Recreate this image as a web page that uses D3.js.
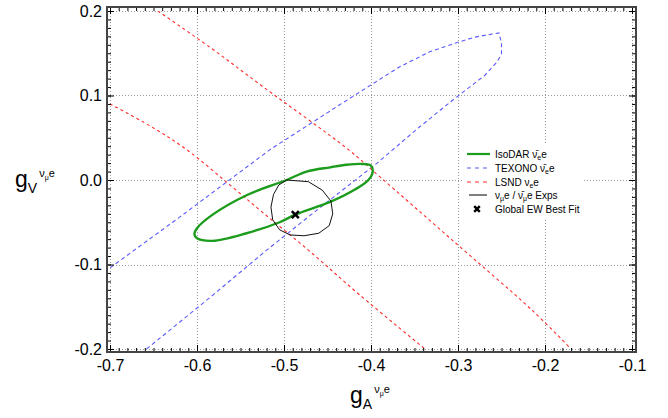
<!DOCTYPE html>
<html>
<head>
<meta charset="utf-8">
<script src="https://cdn.jsdelivr.net/npm/d3@7"></script>
<style>
  html, body { margin: 0; padding: 0; background: #fff; }
  svg { display: block; font-family: "Liberation Sans", Arial, Helvetica, sans-serif; }
</style>
</head>
<body>
<svg id="chart" width="668" height="418"></svg>
<script>
// Axis tick values
const xTicks = [-0.7, -0.6, -0.5, -0.4, -0.3, -0.2, -0.1];
const yTicks = [-0.2, -0.1, 0.0, 0.1, 0.2];

// LSND nu_e e allowed band: its two edges, [gA, gV]
const lsndLeft = [[-0.700, 0.090], [-0.654, 0.064], [-0.612, 0.036], [-0.562, -0.006],
                  [-0.525, -0.038], [-0.472, -0.083], [-0.413, -0.136], [-0.338, -0.200]];
const lsndRight = [[-0.645, 0.200], [-0.585, 0.157], [-0.525, 0.111], [-0.426, 0.036],
                   [-0.390, 0.004], [-0.309, -0.069], [-0.215, -0.154], [-0.170, -0.200]];

// TEXONO anti-nu_e e contour (visible part)
const texono = [[-0.700, -0.104], [-0.620, -0.044], [-0.516, 0.036], [-0.436, 0.089],
                [-0.367, 0.134], [-0.332, 0.152], [-0.300, 0.163], [-0.281, 0.169],
                [-0.265, 0.172], [-0.253, 0.174], [-0.250, 0.162], [-0.250, 0.149],
                [-0.255, 0.140], [-0.269, 0.124], [-0.303, 0.097], [-0.344, 0.063],
                [-0.393, 0.020], [-0.459, -0.033], [-0.520, -0.083], [-0.585, -0.139],
                [-0.658, -0.200]];

// IsoDAR anti-nu_e e sensitivity contour
const isodar = [[-0.603, -0.064], [-0.600, -0.069], [-0.582, -0.072], [-0.543, -0.063],
                [-0.505, -0.050], [-0.487, -0.041], [-0.447, -0.026], [-0.418, -0.011],
                [-0.403, 0.000], [-0.398, 0.010], [-0.400, 0.017], [-0.410, 0.019],
                [-0.428, 0.018], [-0.447, 0.015], [-0.474, 0.010], [-0.497, 0.000],
                [-0.543, -0.018], [-0.582, -0.041], [-0.600, -0.057]];

// nu_mu e / anti-nu_mu e experiments contour
const numuExps = [[-0.497, 0.000], [-0.472, -0.002], [-0.456, -0.012], [-0.446, -0.025],
                  [-0.444, -0.040], [-0.448, -0.054], [-0.460, -0.063], [-0.477, -0.066],
                  [-0.493, -0.065], [-0.505, -0.059], [-0.513, -0.047], [-0.515, -0.032],
                  [-0.512, -0.017], [-0.506, -0.006]];

// Global electroweak best fit point
const bestFit = [-0.487, -0.041];

// Legend labels, split into plain / subscript runs
const legendLabels = [
  [["IsoDAR  "], ["ν\u0304"], ["e", "sub"], ["e"]],
  [["TEXONO  "], ["ν\u0304"], ["e", "sub"], ["e"]],
  [["LSND ν"], ["e", "sub"], ["e"]],
  [["ν"], ["μ", "sub"], ["e / "], ["ν\u0304"], ["μ", "sub"], ["e Exps"]],
  [["Global EW Best Fit"]]
];

const svg = d3.select("#chart");
const x = d3.scaleLinear().domain([-0.7, -0.1]).range([110, 632]);
const y = d3.scaleLinear().domain([-0.2, 0.2]).range([349, 11]);
const frame = { l: 107, r: 636, t: 7, b: 352 };

const minorX = d3.range(-70, -9).map(i => i / 100);
const minorY = d3.range(-20, 21).map(i => i / 100);

// Dotted grid at major ticks
const grid = svg.append("g").attr("stroke", "#9a9a9a").attr("stroke-width", 1)
  .attr("stroke-dasharray", "1,2");
grid.selectAll(".gx").data(xTicks).join("line").attr("class", "gx")
  .attr("x1", d => Math.round(x(d)) + 0.5).attr("x2", d => Math.round(x(d)) + 0.5)
  .attr("y1", frame.t).attr("y2", frame.b);
grid.selectAll(".gy").data(yTicks).join("line").attr("class", "gy")
  .attr("y1", d => Math.round(y(d)) + 0.5).attr("y2", d => Math.round(y(d)) + 0.5)
  .attr("x1", frame.l).attr("x2", frame.r);

// Clip region for the contours
svg.append("clipPath").attr("id", "plotClip").append("rect")
  .attr("x", x(-0.7)).attr("y", y(0.2))
  .attr("width", x(-0.1) - x(-0.7)).attr("height", y(-0.2) - y(0.2));

const plot = svg.append("g").attr("clip-path", "url(#plotClip)");
const line = d3.line().x(d => x(d[0])).y(d => y(d[1]));

plot.append("path").datum(texono)
  .attr("d", line.curve(d3.curveLinear))
  .attr("fill", "none").attr("stroke", "#5a5aff").attr("stroke-width", 1.1)
  .attr("stroke-dasharray", "4,3");

[lsndLeft, lsndRight].forEach(edge => {
  plot.append("path").datum(edge)
    .attr("d", line.curve(d3.curveCatmullRom.alpha(0.5)))
    .attr("fill", "none").attr("stroke", "#ff2a2a").attr("stroke-width", 1.1)
    .attr("stroke-dasharray", "3,3");
});

plot.append("path").datum(isodar)
  .attr("d", line.curve(d3.curveCatmullRomClosed.alpha(0.5)))
  .attr("fill", "none").attr("stroke", "#1c9c1c").attr("stroke-width", 2.4);

plot.append("path").datum(numuExps)
  .attr("d", line.curve(d3.curveLinearClosed))
  .attr("fill", "none").attr("stroke", "#111").attr("stroke-width", 1);

const marker = d3.symbol().type(d3.symbolTimes).size(34);
plot.append("path").attr("d", marker())
  .attr("transform", `translate(${x(bestFit[0])},${y(bestFit[1])})`)
  .attr("fill", "none").attr("stroke", "#000").attr("stroke-width", 2.6);

// Inward ticks on all four sides
function ticks(axis, tx, ty, vals, size) {
  svg.append("g").attr("transform", `translate(${tx},${ty})`)
    .call(axis.tickValues(vals).tickSize(size).tickFormat(""))
    .call(g => g.select(".domain").remove())
    .call(g => g.selectAll("line").attr("stroke", "#000").attr("stroke-width", 1));
}
ticks(d3.axisBottom(x), 0, frame.b, minorX, -4);
ticks(d3.axisBottom(x), 0, frame.b, xTicks, -7);
ticks(d3.axisTop(x), 0, frame.t, minorX, -4);
ticks(d3.axisTop(x), 0, frame.t, xTicks, -7);
ticks(d3.axisLeft(y), frame.l, 0, minorY, -4);
ticks(d3.axisLeft(y), frame.l, 0, yTicks, -7);
ticks(d3.axisRight(y), frame.r, 0, minorY, -4);
ticks(d3.axisRight(y), frame.r, 0, yTicks, -7);

// Frame
svg.append("rect").attr("x", frame.l).attr("y", frame.t)
  .attr("width", frame.r - frame.l).attr("height", frame.b - frame.t)
  .attr("fill", "none").attr("stroke", "#444").attr("stroke-width", 2);

// Tick labels
const fmt = d => d.toFixed(1);
svg.append("g").attr("transform", `translate(0,${frame.b})`)
  .call(d3.axisBottom(x).tickValues(xTicks).tickSize(0).tickPadding(7.5).tickFormat(fmt))
  .call(g => g.select(".domain").remove())
  .call(g => g.selectAll("text").attr("font-size", 16).attr("fill", "#000")
    .attr("font-family", "Liberation Sans, Arial, sans-serif"));
svg.append("g").attr("transform", `translate(${frame.l},0)`)
  .call(d3.axisLeft(y).tickValues(yTicks).tickSize(0).tickPadding(5).tickFormat(fmt))
  .call(g => g.select(".domain").remove())
  .call(g => g.selectAll("text").attr("font-size", 16).attr("fill", "#000")
    .attr("font-family", "Liberation Sans, Arial, sans-serif"));

// Axis titles: g_V^{nu_mu e} and g_A^{nu_mu e}
function coupling(tx, ty, sub) {
  const t = svg.append("text").attr("x", tx).attr("y", ty).attr("font-size", 23).attr("fill", "#000");
  t.append("tspan").text("g");
  t.append("tspan").attr("font-size", 14).attr("dy", 6).text(sub);
  t.append("tspan").attr("font-size", 11).attr("dx", 2).attr("dy", -16).text("ν");
  t.append("tspan").attr("font-size", 7).attr("dy", 3).text("μ");
  t.append("tspan").attr("font-size", 11).attr("dy", -3).text("e");
}
coupling(15, 187, "V");
coupling(350, 403, "A");

// Legend
const lg = svg.append("g");
lg.append("rect").attr("x", 463).attr("y", 144).attr("width", 120).attr("height", 74).attr("fill", "#fff");
const rowY = [154, 168, 182, 195, 209];
lg.append("line").attr("x1", 467).attr("x2", 490).attr("y1", rowY[0]).attr("y2", rowY[0])
  .attr("stroke", "#1c9c1c").attr("stroke-width", 2.2);
lg.append("line").attr("x1", 467).attr("x2", 490).attr("y1", rowY[1]).attr("y2", rowY[1])
  .attr("stroke", "#5a5aff").attr("stroke-width", 1.1).attr("stroke-dasharray", "4,4");
lg.append("line").attr("x1", 467).attr("x2", 490).attr("y1", rowY[2]).attr("y2", rowY[2])
  .attr("stroke", "#ff2a2a").attr("stroke-width", 1.1).attr("stroke-dasharray", "4,4");
lg.append("line").attr("x1", 469).attr("x2", 487).attr("y1", rowY[3]).attr("y2", rowY[3])
  .attr("stroke", "#000").attr("stroke-width", 1);
lg.append("path").attr("d", d3.symbol().type(d3.symbolTimes).size(22)())
  .attr("transform", `translate(477,${rowY[4]})`)
  .attr("fill", "none").attr("stroke", "#000").attr("stroke-width", 2.4);

legendLabels.forEach((runs, i) => {
  const t = lg.append("text").attr("x", 495).attr("y", rowY[i] + 3.5)
    .attr("font-size", 10).attr("fill", "#000");
  let shifted = false;
  runs.forEach(([s, kind]) => {
    const sp = t.append("tspan").text(s);
    if (kind === "sub") { sp.attr("font-size", 7).attr("dy", 2.5); shifted = true; }
    else if (shifted) { sp.attr("dy", -2.5); shifted = false; }
  });
});
</script>
</body>
</html>
